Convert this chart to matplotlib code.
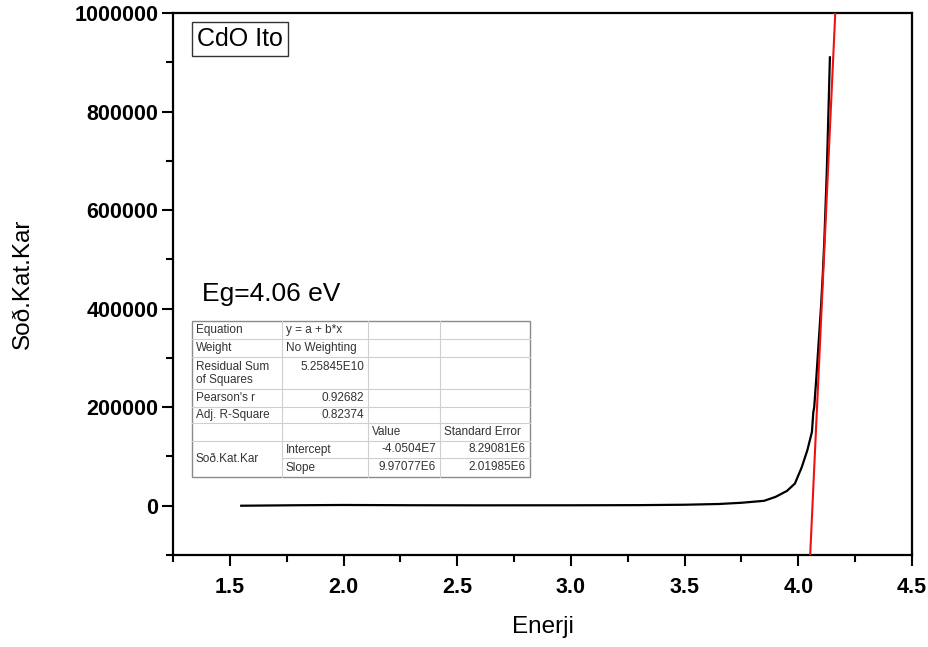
import numpy as np
import matplotlib
matplotlib.use("Agg")
import matplotlib.pyplot as plt
from matplotlib.ticker import MultipleLocator

plt.rcParams['font.family'] = ['Liberation Sans', 'DejaVu Sans']

energy = [1.55, 1.8, 2.0, 2.3, 2.6, 3.0, 3.3, 3.5, 3.65, 3.75, 3.85, 3.9, 3.95,
          3.985, 4.015, 4.04, 4.06, 4.066, 4.07, 4.08, 4.09, 4.10, 4.108,
          4.115, 4.125, 4.132, 4.139]
signal = [0, 1000, 1500, 1000, 800, 900, 1200, 2000, 3500, 6000, 10000, 18000,
          30000, 45000, 78000, 113000, 150000, 190000, 200000, 265000, 335000,
          405000, 473000, 545000, 675000, 790000, 910000]

# Linear fit reported by Origin
intercept = -4.0504e7
slope = 9.97077e6

table_rows = [
    ["Equation", "y = a + b*x", "", ""],
    ["Weight", "No Weighting", "", ""],
    ["Residual Sum\nof Squares", "5.25845E10", "", ""],
    ["Pearson's r", "0.92682", "", ""],
    ["Adj. R-Square", "0.82374", "", ""],
    ["", "", "Value", "Standard Error"],
    ["Soð.Kat.Kar", "Intercept", "-4.0504E7", "8.29081E6"],
    ["", "Slope", "9.97077E6", "2.01985E6"],
]

W, H = 929, 647
fig = plt.figure(figsize=(W / 100, H / 100), dpi=100)
ax = fig.add_axes([173 / W, 1 - 555 / H, (912 - 173) / W, (555 - 13) / H])

ax.plot(energy, signal, color="black", lw=1.6, zorder=3)
fx = np.array([3.9, 4.3])
ax.plot(fx, intercept + slope * fx, color="#ee1111", lw=1.5, zorder=4)

ax.set_xlim(1.25, 4.5)
ax.set_ylim(-100000, 1000000)
ax.xaxis.set_major_locator(MultipleLocator(0.5))
ax.xaxis.set_minor_locator(MultipleLocator(0.25))
ax.yaxis.set_major_locator(MultipleLocator(200000))
ax.yaxis.set_minor_locator(MultipleLocator(100000))
ax.xaxis.set_major_formatter(plt.FormatStrFormatter("%.1f"))
ax.yaxis.set_major_formatter(plt.FormatStrFormatter("%d"))

ax.tick_params(which="major", direction="out", length=8, width=1.5,
               labelsize=15.5)
ax.tick_params(axis="x", which="major", pad=8)
ax.tick_params(axis="y", which="major", pad=2.5)
ax.tick_params(which="minor", direction="out", length=5, width=1.5)
ax.tick_params(top=False, right=False, which="both")
for lab in ax.get_xticklabels() + ax.get_yticklabels():
    lab.set_fontweight("bold")
for s in ax.spines.values():
    s.set_linewidth(1.6)

ax.set_xlabel("Enerji", fontsize=17.5, labelpad=13)
ax.set_ylabel("Soð.Kat.Kar", fontsize=17.5, labelpad=29)

# overlay in pixel coordinates for the annotations
ov = fig.add_axes([0, 0, 1, 1], zorder=10)
ov.set_xlim(0, W)
ov.set_ylim(H, 0)
ov.axis("off")

ov.text(240, 39, "CdO Ito", fontsize=18, ha="center", va="center",
        bbox=dict(boxstyle="square,pad=0.2", fc="white", ec="#333333", lw=1))
ov.text(202, 301, "Eg=4.06 eV", fontsize=19, ha="left", va="baseline")

# results table
cols = [192, 282, 368, 440, 530]
rows = [321, 339, 357, 389, 407, 423, 441, 458, 477]
ov.add_patch(plt.Rectangle((cols[0], rows[0]), cols[-1] - cols[0],
                           rows[-1] - rows[0], fc="white", ec="#8a8a8a", lw=1))
for y in rows[1:-1]:
    x0 = cols[1] if y == rows[7] else cols[0]
    ov.plot([x0, cols[-1]], [y, y], color="#cfcfcf", lw=0.8)
for x in cols[1:-1]:
    ov.plot([x, x], [rows[0], rows[-1]], color="#cfcfcf", lw=0.8)

right_cells = {(2, 1), (3, 1), (4, 1), (6, 2), (6, 3), (7, 2), (7, 3)}
for r, row in enumerate(table_rows):
    for c, txt in enumerate(row):
        if not txt:
            continue
        top, bot = rows[r], rows[r + 1]
        if r == 6 and c == 0:
            bot = rows[8]
        if (r, c) in right_cells:
            x, ha = cols[c + 1] - 4, "right"
        else:
            x, ha = cols[c] + 4, "left"
        if r == 2:
            y, va = top + 4, "top"
        else:
            y, va = (top + bot) / 2, "center"
        ov.text(x, y, txt, fontsize=8.5, color="#333333", ha=ha, va=va,
                linespacing=1.15)

fig.savefig("out.png", dpi=100, facecolor="white")
